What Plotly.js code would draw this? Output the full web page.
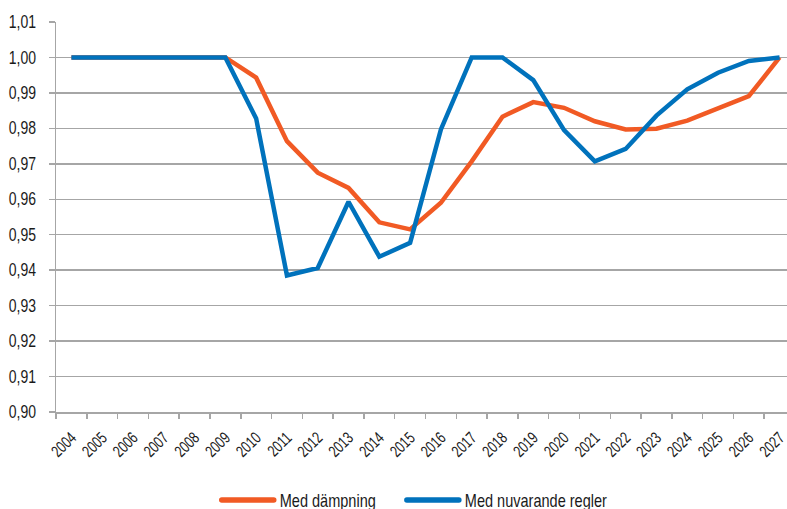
<!DOCTYPE html>
<html>
<head>
<meta charset="utf-8">
<script src="https://cdn.plot.ly/plotly-3.0.1.min.js"></script>
<style>
html,body{margin:0;padding:0;overflow:hidden;background:#fff;}
#chart{width:800px;height:509px;}
</style>
</head>
<body>
<div id="chart"></div>
<script>
const years = ['2004','2005','2006','2007','2008','2009','2010','2011','2012','2013','2014','2015','2016','2017','2018','2019','2020','2021','2022','2023','2024','2025','2026','2027'];
const medDampning = [1.000,1.000,1.000,1.000,1.000,1.000,0.9943,0.9764,0.9675,0.9632,0.9535,0.9515,0.9590,0.9707,0.9833,0.9874,0.9858,0.9820,0.9797,0.9799,0.9822,0.9855,0.9891,1.000];
const medNuvarande = [1.000,1.000,1.000,1.000,1.000,1.000,0.9828,0.9385,0.9406,0.9593,0.9438,0.9477,0.9797,1.000,1.000,0.9936,0.9795,0.9707,0.9742,0.9836,0.9910,0.9957,0.9990,1.000];
const seriesNames = ['Med dämpning','Med nuvarande regler'];
const yTicks = [0.90,0.91,0.92,0.93,0.94,0.95,0.96,0.97,0.98,0.99,1.00,1.01];

const FONT = '"Liberation Sans", Arial, sans-serif';
const TXT = '#1a1a1a';
const traces = [
  {x: years, y: medDampning, name: seriesNames[0], type: 'scatter', mode: 'lines',
   line: {color: '#F15A24', width: 4.5}},
  {x: years, y: medNuvarande, name: seriesNames[1], type: 'scatter', mode: 'lines',
   line: {color: '#0072BC', width: 4.5}}
];
const layout = {
  width: 800, height: 509,
  margin: {l: 56, r: 5, t: 22, b: 97, autoexpand: false},
  paper_bgcolor: '#fff', plot_bgcolor: '#fff',
  separators: ', ',
  font: {family: FONT, size: 17.5, color: TXT},
  showlegend: true,
  legend: {orientation: 'h', x: 0.479, xanchor: 'center', y: -0.222, yanchor: 'middle',
           font: {family: FONT, size: 17.5, color: TXT}, traceorder: 'normal',
           itemwidth: 55},
  xaxis: {type: 'category', range: [-0.5, 23.5], tickson: 'boundaries',
          ticks: 'outside', ticklen: 5, tickcolor: '#a6a6a6', tickwidth: 1.5,
          showgrid: false, showline: true, linecolor: '#a6a6a6', linewidth: 1.5,
          tickangle: -45, ticklabelstandoff: 8,
          tickfont: {family: FONT, size: 16.5, color: TXT},
          zeroline: false},
  yaxis: {range: [0.90, 1.01], tickvals: yTicks, tickformat: '.2f',
          ticks: 'outside', ticklen: 6, tickcolor: '#a6a6a6', tickwidth: 1.5,
          showgrid: true, gridcolor: '#a6a6a6', gridwidth: 1.5,
          showline: true, linecolor: '#a6a6a6', linewidth: 1.5,
          ticklabelstandoff: 9,
          tickfont: {family: FONT, size: 17.5, color: TXT},
          zeroline: false}
};

function squeeze(t, s){
  const x = parseFloat(t.getAttribute('x')) || 0;
  const y = parseFloat(t.getAttribute('y')) || 0;
  const tr = t.getAttribute('transform') || '';
  t.setAttribute('transform', tr + ' translate(' + x + ',' + y + ') scale(' + s + ',1) translate(' + (-x) + ',' + (-y) + ')');
}

Plotly.newPlot('chart', traces, layout, {staticPlot: true, displayModeBar: false}).then(function(gd){
  gd.querySelectorAll('.ytick text').forEach(function(t){ squeeze(t, 0.8); });
  gd.querySelectorAll('.xtick text').forEach(function(t){ squeeze(t, 0.74); });
  const S = 0.83;
  const items = Array.from(gd.querySelectorAll('.legend .traces'));
  items.forEach(function(it){
    const p = it.querySelector('.legendlines path');
    if (p) { p.setAttribute('d', 'M7,0h52'); p.style.strokeLinecap = 'round'; p.style.strokeWidth = '5.5px'; }
  });
  let pos = [];
  items.forEach(function(it){
    const t = it.querySelector('text.legendtext');
    const w = t.getComputedTextLength();
    const x0 = parseFloat(t.getAttribute('x')) || 0;
    squeeze(t, S);
    pos.push({it: it, w: w * S, x0: x0});
  });
  if (pos.length) {
    const m0 = /translate\(\s*([-\d.e]+)[ ,]+([-\d.e]+)/.exec(pos[0].it.getAttribute('transform') || 'translate(0,0)');
    let tx = parseFloat(m0[1]), ty = parseFloat(m0[2]);
    const cur = [];
    for (let i = 0; i < pos.length; i++) {
      cur.push(tx);
      tx = tx + pos[i].x0 + pos[i].w + 31 - 7;
    }
    pos.forEach(function(q, i){ q.it.setAttribute('transform', 'translate(' + cur[i] + ',' + ty + ')'); });
    const r = pos[0].it.querySelector('.legendlines path').getBoundingClientRect();
    const dx = 219 - (r.left - 2.75);
    const dy = 500 - (r.top + r.height / 2);
    pos.forEach(function(q, i){ q.it.setAttribute('transform', 'translate(' + (cur[i] + dx) + ',' + (ty + dy) + ')'); });
  }
});
</script>
</body>
</html>
